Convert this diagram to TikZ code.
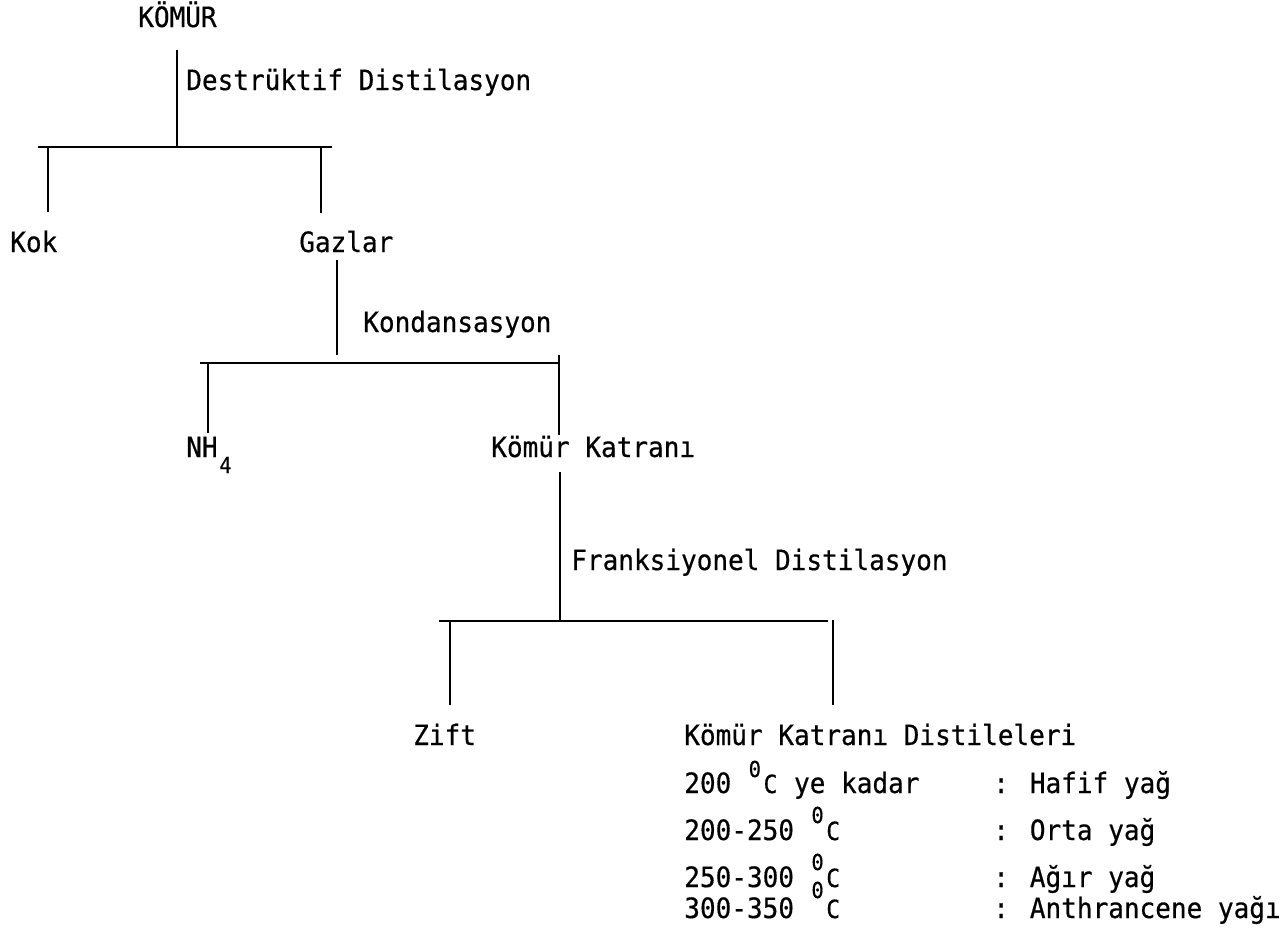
\documentclass[tikz,border=0pt]{standalone}
\usepackage{fontspec}
\newfontfamily\typew[FakeBold=0.5,FakeStretch=0.93]{DejaVu Sans Mono}
\usetikzlibrary{positioning}
% one small typewriter cell, raised by #2
\newcommand{\sm}[3][11]{\makebox[7.84pt][c]{\raisebox{#2}{\fontsize{#1}{#1}\selectfont #3}}}

\begin{document}
\begin{tikzpicture}[
			x=0.5pt,y=-0.5pt,
			lbl/.style={anchor=base west,inner sep=0pt,font=\typew\fontsize{14}{14}\selectfont},
			line width=1.3pt
			]
			\useasboundingbox (0,0) rectangle (1281,928);
			
			\node[lbl] (komur) at (137,27) {KÖMÜR};
			\node[lbl] (destr) at (185,90) {Destrüktif Distilasyon};
			
			\node[lbl] (kok) at (9,252) {Kok};
			\node[lbl] (gazlar) at (298,252) {Gazlar};
			\node[lbl] (kond) at (362,332) {Kondansasyon};
			
			\node[lbl] (nh) at (185,457) {NH\sm{-8pt}{4}};
			\node[lbl] (katran) at (490,457) {Kömür Katranı};
			\node[lbl] (frak) at (570,570) {Franksiyonel Distilasyon};
			
			\node[lbl] (zift) at (412,745) {Zift};
			\node[lbl] (dist) at (683,745) {Kömür Katranı Distileleri};
			
			\node[lbl] (r1) at (683,793) {200 \sm{8pt}{0}\sm[12.5]{0pt}{C} ye kadar};
			\node[lbl] (r2) at (683,840) {200-250 \sm{8.5pt}{0}\sm[12.5]{0pt}{C}};
			\node[lbl] (r3) at (683,887) {250-300 \sm{8.5pt}{0}\sm[12.5]{0pt}{C}};
			\node[lbl] (r4) at (683,918) {300-350 \sm{10pt}{0}\sm[12.5]{0pt}{C}};
			
			\node[lbl] (h1) at (992,793) {: Hafif yağ};
			\node[lbl] (h2) at (992,840) {: Orta yağ};
			\node[lbl] (h3) at (992,887) {: Ağır yağ};
			\node[lbl] (h4) at (992,918) {: Anthrancene yağı};
			
			% first split
			\coordinate (t1) at (177,50);
			\coordinate (b1w) at (38,147);
			\coordinate (b1e) at (332,147);
			\coordinate (k1) at (48,212);
			\coordinate (g1) at (321,213);
			\draw (t1)--(t1 |- b1w);
			\draw (b1w)--(b1e);
			\draw (k1 |- b1w)--(k1);
			\draw (g1 |- b1w)--(g1);
			
			% second split
			\coordinate (t2) at (337,260);
			\coordinate (t2e) at (337,355);
			\coordinate (b2w) at (200,363);
			\coordinate (b2e) at (558,363);
			\coordinate (n2) at (208,433);
			\coordinate (c2s) at (559,355);
			\coordinate (c2) at (559,435);
			\draw (t2)--(t2e);
			\draw (b2w)--(b2e);
			\draw (n2 |- b2w)--(n2);
			\draw (c2s)--(c2);
			
			% third split
			\coordinate (t3) at (560,472);
			\coordinate (b3w) at (439,621);
			\coordinate (b3e) at (828,621);
			\coordinate (z3) at (450,705);
			\coordinate (d3s) at (833,620);
			\coordinate (d3) at (833,705);
			\draw (t3)--(t3 |- b3w);
			\draw (b3w)--(b3e);
			\draw (z3 |- b3w)--(z3);
			\draw (d3s)--(d3);
			
		\end{tikzpicture}
\end{document}
